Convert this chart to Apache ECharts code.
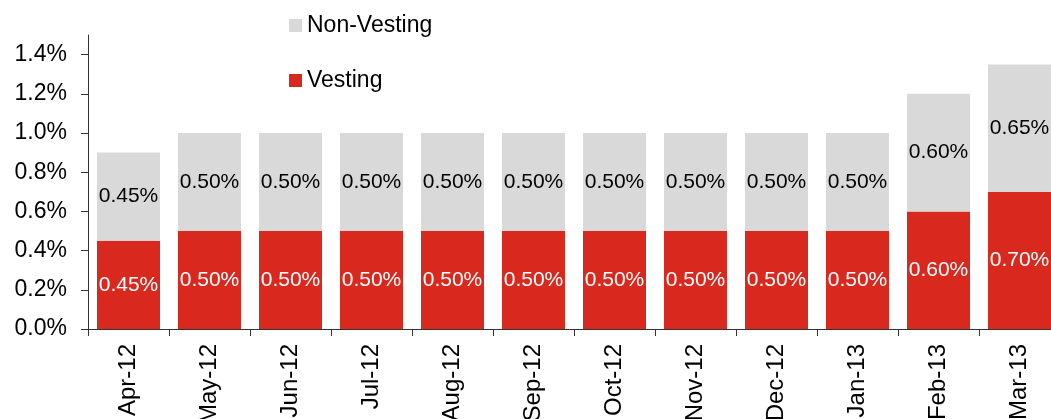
<!DOCTYPE html>
<html>
<head>
<meta charset="utf-8">
<style>
  html, body { margin: 0; padding: 0; background: #fff; }
  #chart { width: 1051px; height: 419px; }
</style>
<script src="https://cdn.jsdelivr.net/npm/echarts@6/dist/echarts.min.js"></script>
</head>
<body>
<div id="chart"></div>
<script>
// Monthly rates, in percent
const months = ['Apr-12', 'May-12', 'Jun-12', 'Jul-12', 'Aug-12', 'Sep-12',
                'Oct-12', 'Nov-12', 'Dec-12', 'Jan-13', 'Feb-13', 'Mar-13'];
const vesting    = [0.45, 0.50, 0.50, 0.50, 0.50, 0.50, 0.50, 0.50, 0.50, 0.50, 0.60, 0.70];
const nonVesting = [0.45, 0.50, 0.50, 0.50, 0.50, 0.50, 0.50, 0.50, 0.50, 0.50, 0.60, 0.65];
const yTicks = [0, 0.2, 0.4, 0.6, 0.8, 1.0, 1.2, 1.4];

const FONT = '"Liberation Sans", Arial, sans-serif';
const NARROW = '"Liberation Sans Narrow", "Arial Narrow", "Liberation Sans", Arial, sans-serif';
const pct2 = v => v.toFixed(2) + '%';

const chart = echarts.init(document.getElementById('chart'), null, { renderer: 'canvas' });
chart.setOption({
  animation: false,
  textStyle: { fontFamily: FONT },
  legend: {
    orient: 'vertical',
    left: 284,
    top: 9,
    itemGap: 32,
    itemWidth: 13,
    itemHeight: 13,
    icon: 'rect',
    data: ['Non-Vesting', 'Vesting'],
    textStyle: { fontFamily: FONT, fontSize: 23, color: '#000' }
  },
  grid: { left: 88, top: 35, width: 972, bottom: 90, outerBoundsMode: 'none', containLabel: false },
  xAxis: {
    type: 'category',
    data: months,
    axisLine: { lineStyle: { color: '#333', width: 1 } },
    axisTick: { show: true, length: 7, lineStyle: { color: '#333' } },
    axisLabel: { rotate: 90, margin: 15, fontSize: 24, color: '#000', fontFamily: FONT }
  },
  yAxis: {
    type: 'value',
    min: 0,
    max: 1.5,
    interval: 0.1,
    splitLine: { show: false },
    axisLine: { show: true, lineStyle: { color: '#333', width: 1 } },
    axisTick: { show: true, length: 7, customValues: yTicks, lineStyle: { color: '#333' } },
    axisLabel: {
      customValues: yTicks,
      margin: 21,
      fontSize: 23,
      color: '#000',
      fontFamily: FONT,
      formatter: v => v.toFixed(1) + '%'
    }
  },
  series: [
    {
      name: 'Vesting',
      type: 'bar',
      stack: 'rate',
      barWidth: 63,
      data: vesting,
      itemStyle: { color: '#d9291f' },
      label: {
        show: true, position: 'inside', color: '#fff', fontSize: 21, fontFamily: NARROW,
        formatter: p => pct2(p.value)
      }
    },
    {
      name: 'Non-Vesting',
      type: 'bar',
      stack: 'rate',
      barWidth: 63,
      data: nonVesting,
      itemStyle: { color: '#d9d9d9' },
      label: {
        show: true, position: 'inside', color: '#000', fontSize: 21, fontFamily: NARROW,
        formatter: p => pct2(p.value)
      }
    }
  ]
});
</script>
</body>
</html>
